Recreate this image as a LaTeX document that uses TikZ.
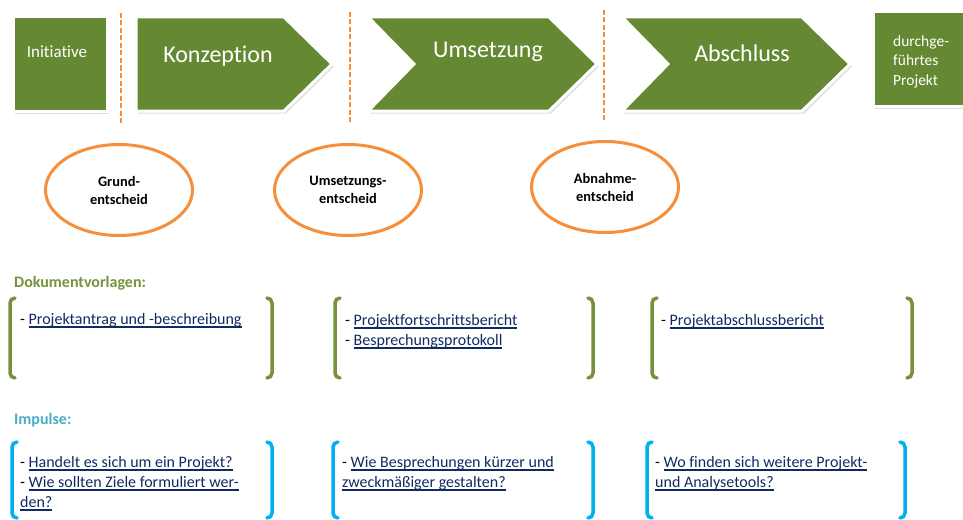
\documentclass[tikz,border=0pt]{standalone}
\usepackage{fontspec}
\setmainfont[Ligatures=CommonOff]{Carlito}
\usetikzlibrary{shapes.geometric,shadows}

\definecolor{phasengruen}{RGB}{101,137,50}
\definecolor{entscheidorange}{RGB}{246,142,58}
\definecolor{vorlagengruen}{RGB}{118,146,60}
\definecolor{impulsblau}{RGB}{75,172,198}
\definecolor{klammerblau}{RGB}{0,176,240}
\definecolor{linkblau}{RGB}{16,42,98}

% unterstrichener Link
\newsavebox{\lnkbox}
\newcommand{\lnk}[1]{\textcolor{linkblau}{\sbox{\lnkbox}{#1}\rlap{\rule[-3.6pt]{\wd\lnkbox}{1.3pt}}\usebox{\lnkbox}}}

\tikzset{
  phase/.style={fill=phasengruen, draw=white, line width=3pt, line join=miter,
    drop shadow={shadow xshift=2pt, shadow yshift=-2.5pt, opacity=.25}},
  phasentext/.style={text=white, anchor=base, inner sep=0pt},
  meilenstein/.style={draw=entscheidorange, line width=2.6pt, dash pattern=on 5pt off 2.5pt},
  entscheid/.style={ellipse, draw=entscheidorange, line width=3pt, fill=white,
    minimum width=147pt, minimum height=91pt, inner sep=0pt, align=center,
    font=\bfseries\fontsize{14.4}{18}\selectfont},
  titel/.style={anchor=base west, inner sep=0pt, font=\bfseries\fontsize{16}{20}\selectfont},
  eintrag/.style={anchor=base west, inner sep=0pt, align=left, font=\fontsize{16}{20}\selectfont},
  klammer/.style={line width=3.5pt, rounded corners=5pt, line cap=round}
}

\begin{document}
\begin{tikzpicture}[x=1pt,y=-1pt]
  \useasboundingbox (0,0) rectangle (963,519);

  % Phasen
  \draw[phase] (13,17) rectangle (107,111);
  \draw[phase] (136,17) -- (284,17) -- (332,64) -- (284,111) -- (136,111) -- cycle;
  \draw[phase] (368,17) -- (549,17) -- (597,64) -- (549,111) -- (368,111) -- (414,64) -- cycle;
  \draw[phase] (622,17) -- (802,17) -- (850,64) -- (802,111) -- (622,111) -- (668,64) -- cycle;
  \draw[phase] (873,12) rectangle (980,106);

  \node[phasentext, font=\fontsize{17}{20}\selectfont] (initiative) at (57,57) {Initiative};
  \node[phasentext, font=\fontsize{24}{28}\selectfont] (konzeption) at (218,63) {Konzeption};
  \node[phasentext, font=\fontsize{24}{28}\selectfont] (umsetzung) at (488,58) {Umsetzung};
  \node[phasentext, font=\fontsize{24}{28}\selectfont] (abschluss) at (742,62) {Abschluss};
  % Grundlinie der letzten Zeile
  \node[phasentext, anchor=base west, align=left, font=\fontsize{15.5}{19.3}\selectfont]
    (projekt) at (893,85) {durchge-\\führtes\\Projekt};

  % Meilensteine
  \coordinate (m1o) at (121,13);  \coordinate (m1u) at (121,123);
  \coordinate (m2o) at (350,12);  \coordinate (m2u) at (350,123);
  \coordinate (m3o) at (604,10);  \coordinate (m3u) at (604,122);
  \draw[meilenstein] (m1o) -- (m1u);
  \draw[meilenstein] (m2o) -- (m2u);
  \draw[meilenstein] (m3o) -- (m3u);

  % Entscheide
  \node[entscheid] (grund) at (119,190) {Grund-\\entscheid};
  \node[entscheid] (umsetzent) at (348,190) {Umsetzungs-\\entscheid};
  \node[entscheid] (abnahme) at (605,187) {Abnahme-\\entscheid};

  % Dokumentvorlagen
  \node[titel, text=vorlagengruen] (vorlagen) at (14,287) {Dokumentvorlagen:};
  \foreach \l/\r in {10/272,335/593,652/912}{
    \draw[klammer, vorlagengruen] (\l+5,298) -- (\l,298) -- (\l,378) -- (\l+5,378);
    \draw[klammer, vorlagengruen] (\r-5,298) -- (\r,298) -- (\r,378) -- (\r-5,378);
  }
  \node[eintrag] (dok1) at (20,324) {- \lnk{Projektantrag und -beschreibung}};
  \node[eintrag] (dok2) at (345,345) {- \lnk{Projektfortschrittsbericht}\\- \lnk{Besprechungsprotokoll}};
  \node[eintrag] (dok3) at (661,325) {- \lnk{Projektabschlussbericht}};

  % Impulse
  \node[titel, text=impulsblau] (impulse) at (14,424) {Impulse:};
  \foreach \l/\r in {12/272,333/593,647/905}{
    \draw[klammer, klammerblau] (\l+5,442) -- (\l,442) -- (\l,518) -- (\l+5,518);
    \draw[klammer, klammerblau] (\r-5,442) -- (\r,442) -- (\r,518) -- (\r-5,518);
  }
  \node[eintrag] (imp1) at (20,507) {- \lnk{Handelt es sich um ein Projekt?}\\- \lnk{Wie sollten Ziele formuliert wer-}\\\lnk{den?}};
  \node[eintrag] (imp2) at (342,487) {- \lnk{Wie Besprechungen kürzer und}\\\lnk{zweckmäßiger gestalten?}};
  \node[eintrag] (imp3) at (655,487) {- \lnk{Wo finden sich weitere Projekt-}\\\lnk{und Analysetools?}};
\end{tikzpicture}
\end{document}
